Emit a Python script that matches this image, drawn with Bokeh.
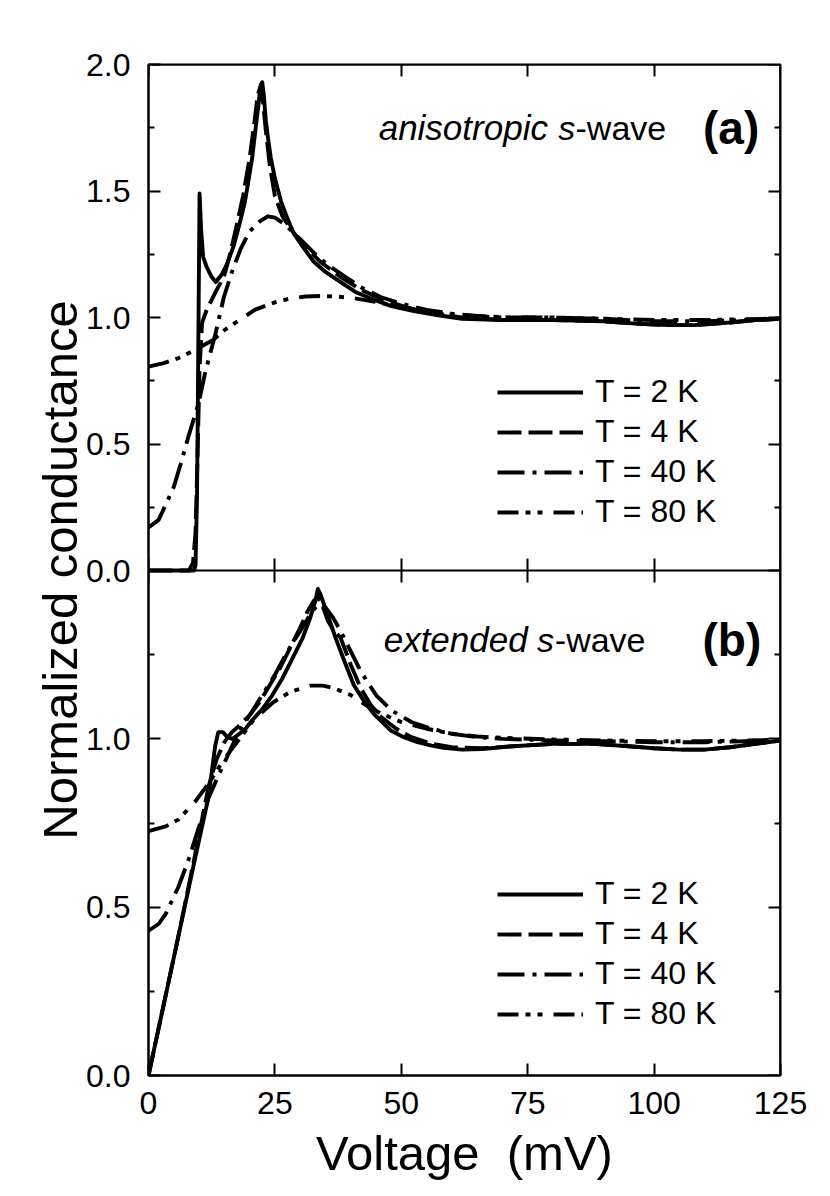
from bokeh.plotting import figure
from bokeh.models import (Range1d, LinearAxis, FixedTicker, NumeralTickFormatter,
                          CustomJSTickFormatter, Label, Legend, LegendItem, Grid)
from bokeh.embed import file_html
from bokeh.resources import INLINE

FONT = "Liberation Sans"

# ---------------- data: panel (a) anisotropic s-wave ----------------
volt_a_2K = [0, 9.0, 9.3, 9.6, 9.9, 10.1, 10.4, 10.8, 11.5, 12.5, 13.3, 14.5, 15.5, 16.8,
             18.0, 19.0, 19.6, 20.5, 21.2, 21.8, 22.2, 22.5, 22.8, 23.2, 23.7, 24.2, 25.0,
             26.2, 27.5, 28.8, 30.5, 32.7, 35.0, 38.0, 41.0, 44.6, 48.0, 52.5, 57.0, 62.0,
             70.0, 80.0, 90.0, 97.0, 103.0, 108.0, 115.0, 120.0, 125.0]
cond_a_2K = [0.0, 0.0, 0.02, 0.3, 1.0, 1.49, 1.35, 1.24, 1.20, 1.16, 1.14, 1.17, 1.21, 1.28,
             1.37, 1.45, 1.52, 1.63, 1.75, 1.85, 1.92, 1.93, 1.88, 1.78, 1.70, 1.63, 1.55,
             1.46, 1.39, 1.33, 1.28, 1.22, 1.18, 1.14, 1.10, 1.07, 1.045, 1.025, 1.01, 0.995,
             0.99, 0.99, 0.985, 0.975, 0.97, 0.97, 0.98, 0.99, 0.995]

volt_a_4K = [0, 8.0, 8.8, 9.3, 9.7, 10.1, 10.6, 11.5, 12.5, 13.5, 14.9, 16.0, 17.4, 18.7,
             20.0, 21.0, 21.6, 22.1, 22.6, 23.2, 24.0, 25.0, 26.5, 28.5, 31.0, 34.0, 38.0,
             42.0, 47.0, 52.0, 57.0, 62.0, 70.0, 80.0, 90.0, 97.0, 103.0, 108.0, 115.0,
             120.0, 125.0]
cond_a_4K = [0.0, 0.0, 0.03, 0.15, 0.45, 0.8, 0.98, 1.03, 1.07, 1.11, 1.16, 1.24, 1.36, 1.48,
             1.63, 1.78, 1.88, 1.91, 1.86, 1.74, 1.60, 1.48, 1.40, 1.34, 1.28, 1.22, 1.16,
             1.11, 1.065, 1.035, 1.015, 1.0, 0.99, 0.99, 0.985, 0.975, 0.97, 0.97, 0.98,
             0.99, 0.995]

volt_a_40K = [0, 2, 3.4, 5, 6.5, 7.9, 9.9, 11.3, 13.3, 14.9, 16.5, 18.2, 20, 22, 23.6, 25,
              26.8, 29, 31, 33.5, 36, 39, 42, 46, 50, 55, 60, 65, 70, 80, 90, 100, 110,
              118, 125]
cond_a_40K = [0.17, 0.2, 0.26, 0.33, 0.43, 0.53, 0.66, 0.79, 0.94, 1.08, 1.18, 1.27, 1.34,
              1.38, 1.40, 1.395, 1.37, 1.33, 1.29, 1.24, 1.20, 1.16, 1.12, 1.08, 1.055,
              1.03, 1.015, 1.005, 1.0, 1.0, 0.995, 0.985, 0.985, 0.99, 0.995]

volt_a_80K = [0, 3, 6, 9, 12.7, 15, 18, 21, 25, 28, 31, 34, 37, 40, 44, 48, 52, 56, 60, 66,
              72, 80, 90, 100, 110, 118, 125]
cond_a_80K = [0.806, 0.82, 0.84, 0.87, 0.91, 0.95, 0.99, 1.03, 1.06, 1.075, 1.083, 1.085,
              1.083, 1.078, 1.065, 1.05, 1.035, 1.02, 1.012, 1.005, 1.0, 1.0, 0.995, 0.99,
              0.99, 0.993, 0.996]

# ---------------- data: panel (b) extended s-wave ----------------
volt_b_2K = [0, 3, 6, 9, 11.7, 12.5, 13.2, 13.8, 14.7, 15.6, 16.6, 18, 19.2, 20.5, 22.6,
             24.5, 26.5, 28.5, 30.5, 32, 33, 33.5, 34, 35.4, 37, 38.5, 40.6, 42.5, 44.5,
             47.9, 50.5, 53.2, 56, 58.4, 62, 66, 72, 80, 88, 95, 100, 105, 110, 115, 120, 125]
cond_b_2K = [0.0, 0.21, 0.42, 0.63, 0.815, 0.9, 0.98, 1.02, 1.02, 1.005, 1.0, 1.015, 1.03,
             1.055, 1.09, 1.13, 1.18, 1.24, 1.30, 1.36, 1.41, 1.445, 1.43, 1.37, 1.30, 1.24,
             1.16, 1.115, 1.075, 1.025, 1.005, 0.99, 0.98, 0.973, 0.968, 0.97, 0.978, 0.985,
             0.985, 0.978, 0.972, 0.968, 0.968, 0.975, 0.985, 0.995]

volt_b_4K = [0, 3, 6, 9, 11.9, 13.5, 15, 16.5, 18, 20, 22, 24, 26, 28, 30, 31.5, 32.7, 33.5,
             34.3, 35.5, 36.7, 38, 40, 42, 44, 46, 49, 52, 56, 60, 66, 72, 80, 88, 95, 100,
             105, 110, 115, 120, 125]
cond_b_4K = [0.0, 0.21, 0.42, 0.64, 0.86, 0.94, 0.99, 1.02, 1.04, 1.07, 1.11, 1.16, 1.21,
             1.27, 1.33, 1.38, 1.41, 1.42, 1.40, 1.35, 1.32, 1.30, 1.22, 1.15, 1.10, 1.065,
             1.03, 1.005, 0.985, 0.975, 0.972, 0.978, 0.985, 0.985, 0.978, 0.972, 0.968,
             0.968, 0.975, 0.985, 0.995]

volt_b_40K = [0, 2, 3.4, 5.9, 7.9, 9.9, 11.9, 13.5, 15.2, 17.8, 20, 22.5, 25, 27.5, 30, 32,
              33.5, 35, 36.5, 38, 40, 42, 45, 48, 52, 56, 60, 65, 70, 80, 90, 100, 110,
              118, 125]
cond_b_40K = [0.43, 0.45, 0.48, 0.56, 0.64, 0.735, 0.825, 0.88, 0.935, 1.02, 1.07, 1.13,
              1.19, 1.26, 1.32, 1.37, 1.40, 1.39, 1.36, 1.32, 1.26, 1.20, 1.13, 1.085, 1.05,
              1.03, 1.015, 1.005, 1.0, 0.995, 0.993, 0.99, 0.99, 0.993, 0.997]

volt_b_80K = [0, 3.4, 5.9, 9.3, 12, 15, 18, 21, 24.8, 28.1, 32, 34.5, 36.7, 40, 43, 46, 50,
              55, 60, 65, 70, 80, 90, 100, 110, 118, 125]
cond_b_80K = [0.726, 0.74, 0.76, 0.815, 0.87, 0.94, 1.0, 1.06, 1.11, 1.14, 1.158, 1.158,
              1.15, 1.13, 1.10, 1.075, 1.05, 1.03, 1.015, 1.007, 1.003, 0.998, 0.995, 0.993,
              0.993, 0.995, 0.997]

# ---------------- ticks / labels ----------------
x_ticks = [0, 25, 50, 75, 100, 125]
ya_ticks = [0.0, 0.5, 1.0, 1.5, 2.0]
ya_minor = [0.25, 0.75, 1.25, 1.75]
yb_ticks = [0.0, 0.5, 1.0]
yb_minor = [0.25, 0.75, 1.25]
legend_labels = ["T = 2 K", "T = 4 K", "T = 40 K", "T = 80 K"]
dash_styles = ["solid", "24 7", "27 8 4 8", "21 7 5 7 5 11"]

series_a = [(volt_a_2K, cond_a_2K), (volt_a_4K, cond_a_4K),
            (volt_a_40K, cond_a_40K), (volt_a_80K, cond_a_80K)]
series_b = [(volt_b_2K, cond_b_2K), (volt_b_4K, cond_b_4K),
            (volt_b_40K, cond_b_40K), (volt_b_80K, cond_b_80K)]

# ---------------- geometry of the two stacked panels ----------------
PANEL_A_PX = 506   # height of panel (a)
PANEL_B_PX = 505   # height of panel (b)
A_TOP = 2.0
B_TOP = 1.5
a_lo = -A_TOP * PANEL_B_PX / PANEL_A_PX                 # panel (a) range extended below 0
b_hi = B_TOP * (PANEL_A_PX + PANEL_B_PX) / PANEL_B_PX   # panel (b) range extended above 1.5


def b_to_a(v):
    """position of a panel-(b) value on the panel-(a) scale (for the shared left axis)"""
    return a_lo + v * (A_TOP - a_lo) / b_hi


p = figure(width=810, height=1192, x_range=Range1d(0, 125), y_range=Range1d(a_lo, A_TOP),
           output_backend="svg", toolbar_location=None,
           x_axis_location=None, y_axis_location=None,
           min_border_left=148, min_border_right=30, min_border_top=64,
           min_border_bottom=117)
p.extra_y_ranges = {"b": Range1d(0, b_hi)}
p.center = [c for c in p.center if not isinstance(c, Grid)]
p.outline_line_color = "black"
p.outline_line_width = 2
p.background_fill_color = "white"
p.border_fill_color = "white"

empty_fmt = CustomJSTickFormatter(code="return ''")


def style(ax, tick_out=0):
    ax.axis_line_width = 2
    ax.axis_line_color = "black"
    ax.major_tick_line_width = 2
    ax.minor_tick_line_width = 2
    ax.major_tick_line_color = "black"
    ax.minor_tick_line_color = "black"
    ax.major_tick_in = 12
    ax.major_tick_out = tick_out
    ax.minor_tick_in = 6
    ax.minor_tick_out = 0
    ax.major_label_text_font = FONT
    ax.major_label_text_font_size = "32px"
    ax.major_label_text_color = "black"
    ax.axis_label_text_font = FONT
    ax.axis_label_text_font_size = "49px"
    ax.axis_label_text_font_style = "normal"
    ax.axis_label_text_color = "black"
    return ax


# shared left axis: panel (a) ticks plus panel (b) ticks placed on the (a) scale
left_major = [b_to_a(v) for v in yb_ticks] + ya_ticks
left_minor = [b_to_a(v) for v in yb_minor] + ya_minor
left = style(LinearAxis(ticker=FixedTicker(ticks=left_major, minor_ticks=left_minor),
                        formatter=NumeralTickFormatter(format="0.0"),
                        major_label_overrides={b_to_a(v): f"{v:.1f}" for v in yb_ticks},
                        axis_label="Normalized conductance",
                        major_label_standoff=18, axis_label_standoff=-4))
p.add_layout(left, "left")

# right axes (ticks only)
right_a = style(LinearAxis(fixed_location=125,
                           ticker=FixedTicker(ticks=ya_ticks, minor_ticks=ya_minor),
                           formatter=empty_fmt))
p.add_layout(right_a, "right")
right_b = style(LinearAxis(y_range_name="b", fixed_location=125,
                           ticker=FixedTicker(ticks=yb_ticks, minor_ticks=yb_minor),
                           formatter=empty_fmt))
p.add_layout(right_b, "right")

# bottom axis with labels
bottom = style(LinearAxis(ticker=FixedTicker(ticks=x_ticks, minor_ticks=[]),
                          axis_label="Voltage\u00a0 (mV)",
                          major_label_standoff=16, axis_label_standoff=9))
p.add_layout(bottom, "below")
# top axis (ticks only)
top = style(LinearAxis(fixed_location=A_TOP,
                       ticker=FixedTicker(ticks=x_ticks, minor_ticks=[]),
                       formatter=empty_fmt))
p.add_layout(top, "above")
# boundary between the panels (ticks on both sides)
mid = style(LinearAxis(fixed_location=0,
                       ticker=FixedTicker(ticks=x_ticks, minor_ticks=[]),
                       formatter=empty_fmt), tick_out=12)
p.add_layout(mid, "below")

# ---------------- curves ----------------
rend_a = []
for (v, g), dash in zip(series_a, dash_styles):
    rend_a.append(p.line(v, g, line_color="black", line_width=3.9,
                         line_dash=dash, line_join="round"))
rend_b = []
for (v, g), dash in zip(series_b, dash_styles):
    rend_b.append(p.line(v, g, y_range_name="b", line_color="black", line_width=3.9,
                         line_dash=dash, line_join="round"))


def make_legend(renderers, loc):
    return Legend(items=[LegendItem(label=lab, renderers=[r])
                         for lab, r in zip(legend_labels, renderers)],
                  location=loc, orientation="vertical",
                  glyph_width=86, glyph_height=36, label_height=36, spacing=3,
                  padding=0, margin=0, label_standoff=12,
                  label_text_font=FONT, label_text_font_size="32px",
                  label_text_color="black",
                  border_line_color=None, background_fill_alpha=0)


p.add_layout(make_legend(rend_a, (349, 545)), "center")
p.add_layout(make_legend(rend_b, (349, 43)), "center")


# ---------------- panel annotations ----------------
def add_text(x, y, txt, style_, size, rng=None):
    kw = dict(x=x, y=y, text=txt, text_font=FONT, text_font_size=size,
              text_font_style=style_, text_align="right", text_baseline="alphabetic",
              text_color="black")
    if rng:
        kw["y_range_name"] = rng
    p.add_layout(Label(**kw))


add_text(79.0, 1.75, "anisotropic", "italic", "35px")
add_text(84.4, 1.75, "s", "italic", "34px")
add_text(102.4, 1.75, "-wave", "normal", "34px")
add_text(120.8, 1.75, "(a)", "bold", "46px")

add_text(75.0, 1.295, "extended", "italic", "35px", "b")
add_text(80.2, 1.295, "s", "italic", "34px", "b")
add_text(98.3, 1.295, "-wave", "normal", "34px", "b")
add_text(121.2, 1.295, "(b)", "bold", "46px", "b")

open("out.html", "w").write(file_html(p, INLINE))
